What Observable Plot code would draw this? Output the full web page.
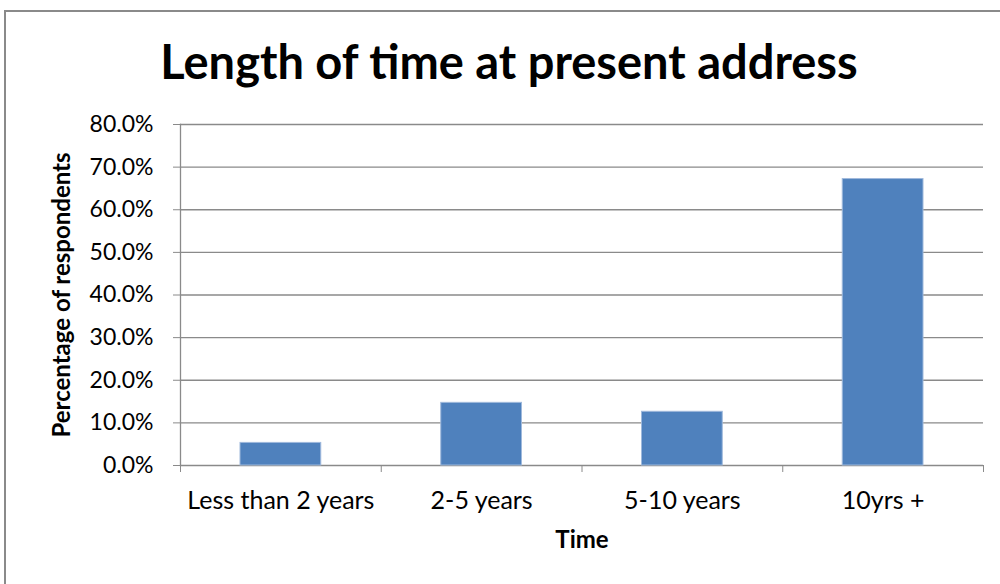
<!DOCTYPE html>
<html>
<head>
<meta charset="utf-8">
<script src="https://cdn.jsdelivr.net/npm/d3@7"></script>
<script src="https://cdn.jsdelivr.net/npm/@observablehq/plot@0.6"></script>
<style>
  html, body { margin: 0; padding: 0; background: #fff; width: 1000px; height: 584px; overflow: hidden; }
  body { position: relative; font-family: Lato, "Open Sans", sans-serif; }
  #frame { position: absolute; left: 4px; top: 10px; width: 1100px; height: 700px; border-left: 2px solid #8a8a8a; border-top: 2px solid #8a8a8a; }
  #title { position: absolute; left: 0; top: 38px; width: 1018px; text-align: center; font-size: 47px; font-weight: bold; color: #000; line-height: 1; }
  #chart { position: absolute; left: 0; top: 100px; }
  #chart svg text { fill: #000; }
  #chart [aria-label="x-axis label"], #chart [aria-label="y-axis label"] { font-weight: bold; font-size: 24px; }
</style>
</head>
<body>
<div id="frame"></div>
<div id="title">Length of time at present address</div>
<div id="chart"></div>
<script>
const categories = ["Less than 2 years", "2-5 years", "5-10 years", "10yrs +"];
const values = [5.3, 14.7, 12.6, 67.2];
const yTicks = [0, 10, 20, 30, 40, 50, 60, 70, 80];

const data = categories.map((c, i) => ({ category: c, index: i, value: values[i] }));
const centers = categories.map((c, i) => i + 0.5);
const bounds = d3.range(categories.length + 1);

const chart = Plot.plot({
  width: 1000,
  height: 484,
  marginTop: 24,
  marginBottom: 119,
  marginLeft: 180,
  marginRight: 17,
  style: { fontFamily: "Lato, 'Open Sans', sans-serif", fontSize: "24px", color: "#000", background: "transparent" },
  x: { type: "linear", domain: [0, categories.length] },
  y: { domain: [0, 80] },
  marks: [
    Plot.ruleY(yTicks, { stroke: "#8a8a8a", strokeWidth: 1.3 }),
    Plot.rectY(data, { x1: "index", x2: d => d.index + 1, y: "value", fill: "#4F81BD", stroke: "#9fb9dc", strokeWidth: 1, insetLeft: 60, insetRight: 60 }),
    Plot.axisY({ ticks: yTicks, tickSize: 7, tickPadding: 20, tickFormat: d => d.toFixed(1) + "%", stroke: "#8a8a8a", fontSize: 23, label: "Percentage of respondents", labelArrow: "none", labelAnchor: "center", labelOffset: 128 }),
    Plot.axisX({ ticks: bounds, tickSize: 7, tickFormat: () => "", stroke: "#8a8a8a", label: null }),
    Plot.axisX({ ticks: centers, tickSize: 0, tickPadding: 26, tickFormat: (d) => categories[Math.floor(d)], fontSize: 25, label: "Time", labelArrow: "none", labelAnchor: "center", labelOffset: 82 }),
    Plot.frame({ anchor: "left", stroke: "#8a8a8a", strokeWidth: 1.3 })
  ]
});
// strip any label arrows in case labelArrow is unsupported
chart.querySelectorAll('[aria-label$="axis label"] text, [aria-label$="axis label"] tspan').forEach(t => {
  t.textContent = t.textContent.replace(/\s*[←→↑↓]\s*/g, "").trim();
});
document.getElementById("chart").appendChild(chart);
</script>
</body>
</html>
